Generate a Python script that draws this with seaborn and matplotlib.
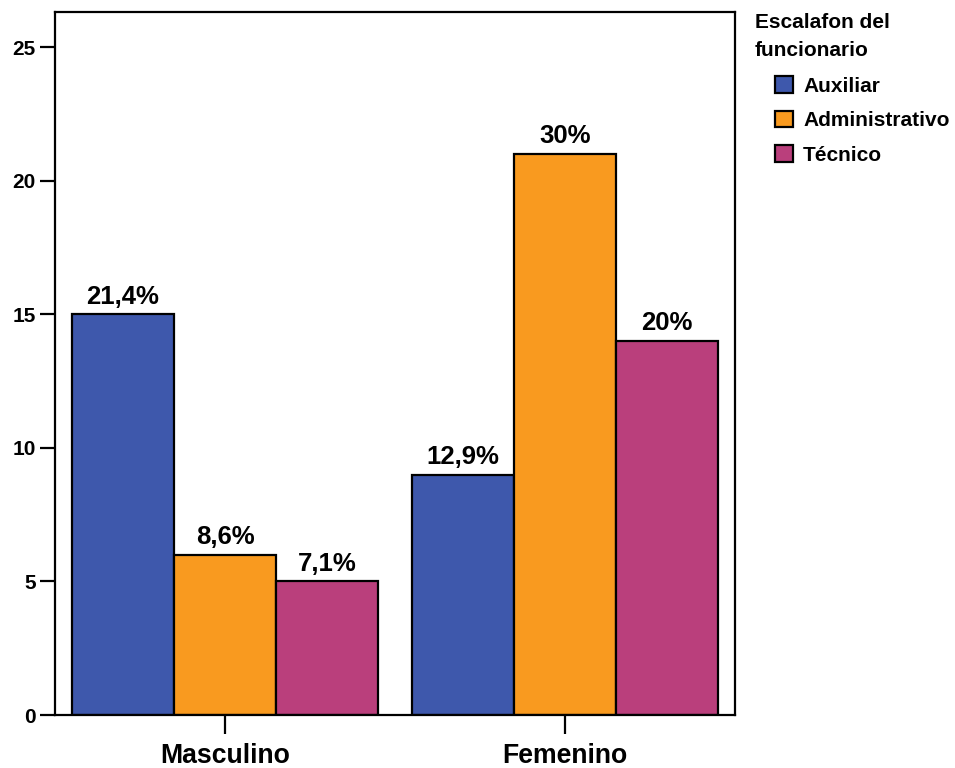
import matplotlib
matplotlib.use("Agg")
import matplotlib.pyplot as plt
import seaborn as sns
import pandas as pd
from matplotlib.patches import Patch

# Funcionarios por sexo y escalafón
sexo = ["Masculino", "Femenino"]
escalafon = ["Auxiliar", "Administrativo", "Técnico"]
conteo_masculino = [15, 6, 5]
conteo_femenino = [9, 21, 14]
etiquetas_masculino = ["21,4%", "8,6%", "7,1%"]
etiquetas_femenino = ["12,9%", "30%", "20%"]
colores = ["#3E58AC", "#F99A1F", "#BA3F7C"]
yticks = [0, 5, 10, 15, 20, 25]
titulo_leyenda = ["Escalafon del", "funcionario"]

rows = []
for s, vals in zip(sexo, [conteo_masculino, conteo_femenino]):
    for e, v in zip(escalafon, vals):
        rows.append({"sexo": s, "escalafon": e, "n": v})
df = pd.DataFrame(rows)

sns.set_theme(style="white")
plt.rcParams["font.family"] = ["Liberation Sans", "DejaVu Sans"]
plt.rcParams["font.weight"] = "bold"
plt.rcParams["text.color"] = "black"
plt.rcParams["xtick.color"] = "black"
plt.rcParams["ytick.color"] = "black"

fig = plt.figure(figsize=(9.55, 7.68), dpi=100)
ax = fig.add_axes([0.0576, 0.069, 0.712, 0.915])

sns.barplot(data=df, x="sexo", y="n", hue="escalafon", order=sexo,
            hue_order=escalafon, palette=colores, width=0.9, saturation=1,
            edgecolor="black", linewidth=1.6, errorbar=None, ax=ax, legend=False)

labels_by_hue = [[etiquetas_masculino[i], etiquetas_femenino[i]] for i in range(3)]
for cont, labs in zip(ax.containers, labels_by_hue):
    ax.bar_label(cont, labels=labs, padding=4, fontsize=18.5, fontweight="bold",
                 color="black")

ax.set_xlim(-0.5, 1.5)
ax.set_ylim(0, 26.3)
ax.set_yticks(yticks)
ax.set_xlabel("")
ax.set_ylabel("")
for sp in ax.spines.values():
    sp.set_visible(True)
    sp.set_color("black")
    sp.set_linewidth(1.6)
ax.tick_params(axis="both", which="both", direction="out", width=1.6,
               color="black", labelcolor="black", left=True, bottom=True)
ax.tick_params(axis="y", labelsize=15, length=11, pad=3)
ax.tick_params(axis="x", labelsize=19.2, length=14, pad=6)
for t in ax.get_xticklabels() + ax.get_yticklabels():
    t.set_fontweight("bold")

# Título de la leyenda
for i, linea in enumerate(titulo_leyenda):
    fig.text(755 / 955, 1 - (22 + 28 * i) / 768, linea, ha="left", va="center",
             fontsize=15, fontweight="bold", color="black")

handles = [Patch(facecolor=c, edgecolor="black", linewidth=1.6, label=l)
           for c, l in zip(colores, escalafon)]
leg = fig.legend(handles=handles, loc="upper left",
                 bbox_to_anchor=(775 / 955, 1 - 76 / 768), frameon=False,
                 borderpad=0, borderaxespad=0,
                 prop={"size": 15, "weight": "bold"}, handlelength=0.85,
                 handleheight=0.85, handletextpad=0.5, labelspacing=0.72)

fig.savefig("out.png", dpi=100)
